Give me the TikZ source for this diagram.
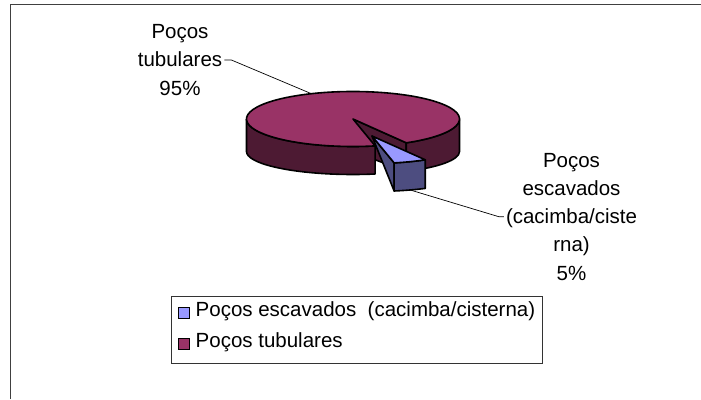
\documentclass[tikz,border=0pt]{standalone}
\usepackage{fontspec}
\setmainfont{Liberation Sans}
\definecolor{pmag}{HTML}{993366}
\definecolor{pmagd}{HTML}{4D1A33}
\definecolor{pblue}{HTML}{9999FF}
\definecolor{pblued}{HTML}{4D4D80}
\def\RX{106.5}
\def\RY{27.5}
\def\RYB{23}
\def\BY{32.5}
\tikzset{
  edge/.style={draw=black, line width=1.6pt, line join=round},
  leader/.style={draw=black, line width=0.7pt},
  lbl/.style={font=\fontsize{20.5}{28.3}\selectfont, align=center, inner sep=2pt},
  legtext/.style={font=\fontsize{20.5}{24}\selectfont, anchor=west, inner sep=0pt},
  legkey/.style={draw=black, line width=1pt, minimum width=11.5pt, minimum height=11.5pt, inner sep=0pt},
}
\begin{document}
\begin{tikzpicture}[x=1pt,y=1pt]
\useasboundingbox (0,0) rectangle (701,399);
% chart area frame (only top and left visible)
\draw[black!75, line width=1pt] (10.5,0) -- (10.5,394.5) -- (701,394.5);

% pie
\begin{scope}[shift={(353,280)}]
  % radial face of big slice at -60
  \filldraw[edge, fill=pmagd] (0,0) -- ({\RX*cos(-60)},{\RY*sin(-60)})
     -- ({\RX*cos(-60)},{-\BY+\RYB*sin(-60)}) -- (0,-\BY) -- cycle;
  % outer walls of big slice
  \filldraw[edge, fill=pmagd] ({\RX*cos(180)},{\RY*sin(180)})
     arc[start angle=180, end angle=282, x radius=\RX pt, y radius=\RY pt]
     -- ({\RX*cos(282)},{-\BY+\RYB*sin(282)})
     arc[start angle=282, end angle=180, x radius=\RX pt, y radius=\RYB pt] -- cycle;
  \filldraw[edge, fill=pmagd] ({\RX*cos(300)},{\RY*sin(300)})
     arc[start angle=300, end angle=360, x radius=\RX pt, y radius=\RY pt]
     -- ({\RX*cos(360)},{-\BY+\RYB*sin(360)})
     arc[start angle=360, end angle=300, x radius=\RX pt, y radius=\RYB pt] -- cycle;
  % top of big slice
  \filldraw[edge, fill=pmag] (0,0) -- ({\RX*cos(-60)},{\RY*sin(-60)})
     arc[start angle=-60, end angle=282, x radius=\RX pt, y radius=\RY pt] -- cycle;
  \coordinate (tubpt) at ({\RX*cos(113)},{\RY*sin(113)});
  % exploded small slice
  \begin{scope}[shift={(19,-17)}]
    \filldraw[edge, fill=pblued] (0,0) -- ({\RX*cos(-78)},{\RY*sin(-78)})
       -- ({\RX*cos(-78)},{-\BY+\RYB*sin(-78)}) -- cycle;
    \filldraw[edge, fill=pblued] ({\RX*cos(-78)},{\RY*sin(-78)})
       arc[start angle=-78, end angle=-60, x radius=\RX pt, y radius=\RY pt]
       -- ({\RX*cos(-60)},{-\BY+\RYB*sin(-60)})
       arc[start angle=-60, end angle=-78, x radius=\RX pt, y radius=\RYB pt] -- cycle;
    \filldraw[edge, fill=pblue] (0,0) -- ({\RX*cos(-78)},{\RY*sin(-78)})
       arc[start angle=-78, end angle=-60, x radius=\RX pt, y radius=\RY pt] -- cycle;
    \coordinate (escpt) at ({\RX*cos(-69)},{-\BY+\RYB*sin(-69)});
  \end{scope}
\end{scope}

% data labels
\node[lbl] (lt) at (180,339) {Poços\\tubulares\\95\%};
\node[lbl] (le) at (571.5,182.3) {Poços\\escavados\\(cacimba/ciste\\rna)\\5\%};
\draw[leader] (lt.east) -- ++(7,0) -- (tubpt);
\draw[leader] (le.west) -- ++(-5,0) -- (escpt);

% legend
\node[draw=black!80, line width=0.8pt, minimum width=371pt, minimum height=66pt, inner sep=0pt, anchor=south west] (legend) at (170.7,35.7) {};
\node[legkey, fill=pblue] (k1) at (184.2,86.2) {};
\node[legkey, fill=pmag] (k2) at (184.2,54.8) {};
\node[legtext] (t1) at (195.5,87.3) {Poços escavados\ \ (cacimba/cisterna)};
\node[legtext] (t2) at (195.5,56.3) {Poços tubulares};
\end{tikzpicture}
\end{document}
